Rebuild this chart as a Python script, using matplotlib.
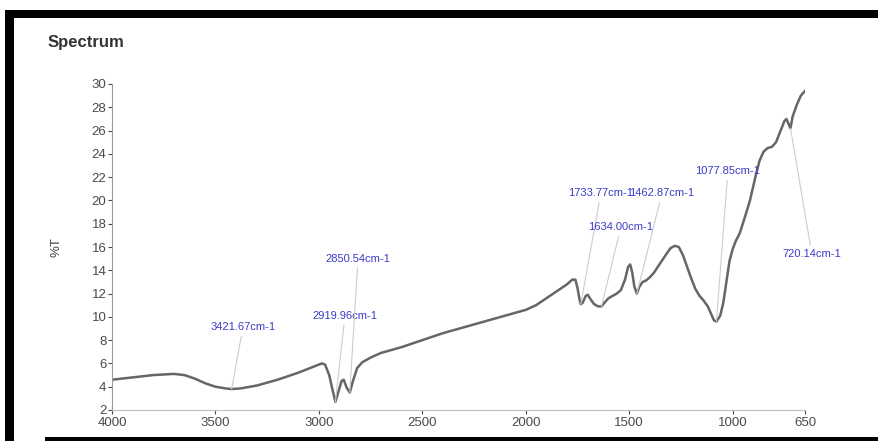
import matplotlib
matplotlib.use("Agg")
import matplotlib.pyplot as plt
import numpy as np
from matplotlib.patches import Rectangle

plt.rcParams["font.family"] = ["Liberation Sans", "DejaVu Sans"]

# FTIR transmittance trace (wavenumber in cm-1, %T)
wavenumber = [
    4000, 3900, 3800, 3700, 3650, 3600, 3550, 3500, 3450, 3421.67, 3380, 3300,
    3200, 3100, 3000, 2985, 2970, 2950, 2935, 2919.96, 2905, 2890, 2880, 2865,
    2850.54, 2835, 2815, 2790, 2750, 2700, 2600, 2500, 2400, 2300, 2200, 2100,
    2000, 1950, 1900, 1850, 1800, 1775, 1760, 1750, 1740, 1733.77, 1725, 1710,
    1700, 1690, 1670, 1650, 1634.00, 1620, 1600, 1580, 1560, 1540, 1520, 1505,
    1495, 1485, 1475, 1462.87, 1450, 1435, 1420, 1400, 1380, 1350, 1320, 1300,
    1280, 1260, 1240, 1220, 1200, 1180, 1160, 1140, 1120, 1100, 1090, 1077.85,
    1060, 1045, 1030, 1015, 1000, 985, 965, 940, 916, 890, 870, 850, 830, 810,
    790, 770, 750, 740, 730, 720.14, 710, 690, 670, 650,
]
transmittance = [
    4.6, 4.8, 5.0, 5.1, 5.0, 4.7, 4.3, 4.0, 3.85, 3.8, 3.85, 4.1,
    4.6, 5.2, 5.9, 6.0, 5.9, 5.0, 3.8, 2.7, 3.6, 4.5, 4.6, 3.9,
    3.5, 4.5, 5.6, 6.1, 6.5, 6.9, 7.4, 8.0, 8.6, 9.1, 9.6, 10.1,
    10.6, 11.0, 11.6, 12.2, 12.8, 13.2, 13.2, 12.5, 11.5, 11.1, 11.2, 11.8,
    11.9, 11.6, 11.1, 10.9, 10.9, 11.2, 11.6, 11.8, 12.0, 12.3, 13.2, 14.3,
    14.5, 13.8, 12.6, 12.0, 12.6, 13.0, 13.1, 13.4, 13.8, 14.6, 15.4, 15.9,
    16.1, 16.0, 15.3, 14.3, 13.3, 12.4, 11.8, 11.4, 10.9, 10.1, 9.7, 9.6,
    10.1, 11.2, 13.0, 14.8, 15.8, 16.5, 17.2, 18.6, 20.0, 22.0, 23.4, 24.2, 24.5, 24.6,
    25.0, 25.9, 26.8, 27.0, 26.6, 26.2, 27.2, 28.2, 29.0, 29.4,
]

# labelled peaks and where their labels sit
peak_wn = [3421.67, 2919.96, 2850.54, 1733.77, 1462.87, 1634.00, 1077.85, 720.14]
peak_text = ["3421.67cm-1", "2919.96cm-1", "2850.54cm-1", "1733.77cm-1",
             "1462.87cm-1", "1634.00cm-1", "1077.85cm-1", "720.14cm-1"]
label_x = [3367, 2874, 2811, 1637, 1342, 1540, 1023, 617]
label_y = [9.1, 10.1, 15.0, 20.6, 20.6, 17.7, 22.5, 15.4]

x_ticks = [4000, 3500, 3000, 2500, 2000, 1500, 1000, 650]
y_ticks = list(range(2, 31, 2))

W, H = 879, 441
fig = plt.figure(figsize=(W / 100, H / 100), dpi=100)
ax = fig.add_axes([112 / W, 1 - 410 / H, (805 - 112) / W, (410 - 84) / H])

ax.plot(wavenumber, transmittance, color="#666666", lw=1.8, solid_joinstyle="round")

wn_sorted = np.array(wavenumber)[::-1]
t_sorted = np.array(transmittance)[::-1]
for wn, txt, lx, ly in zip(peak_wn, peak_text, label_x, label_y):
    ax.annotate(
        txt, xy=(wn, np.interp(wn, wn_sorted, t_sorted)), xytext=(lx, ly),
        ha="center", va="center", fontsize=8, color="#3c3cc8",
        arrowprops=dict(arrowstyle="-", color="#cccccc", lw=0.8, shrinkA=1, shrinkB=0),
    )

ax.set_xlim(4000, 650)
ax.set_ylim(2, 30)
ax.set_xticks(x_ticks)
ax.set_yticks(y_ticks)
ax.tick_params(axis="both", labelsize=9.5, colors="#4a4a4a", length=3, width=0.8, pad=1)
ax.tick_params(axis="x", pad=2)
for side in ("top", "right"):
    ax.spines[side].set_visible(False)
ax.spines["left"].set_color("#999999")
ax.spines["bottom"].set_color("#c0c0c0")
ax.set_ylabel("%T", fontsize=9.5, color="#444444")
ax.yaxis.set_label_coords(-0.072, 0.5)

fig.text(48 / W, 1 - 42 / H, "Spectrum", fontsize=12, fontweight="bold",
         color="#333333", ha="left", va="center")

# black frame around the screenshot
frame = [
    (5, 10, W - 5, 8),    # top bar
    (5, 10, 9, H - 10),   # left bar
    (45, 437, W - 45, 4), # bottom line
]
for x0, y0, w, h in frame:
    fig.add_artist(Rectangle((x0 / W, 1 - (y0 + h) / H), w / W, h / H,
                             transform=fig.transFigure, color="black", lw=0))

fig.savefig("out.png", dpi=100)
